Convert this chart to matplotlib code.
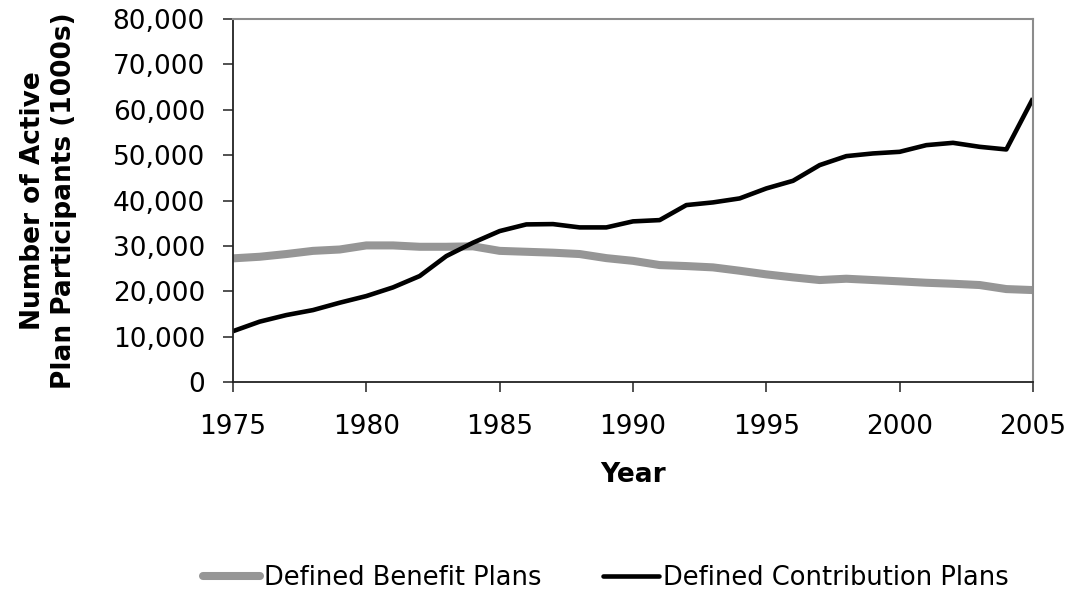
import matplotlib
matplotlib.use("Agg")
import matplotlib.pyplot as plt
from matplotlib.ticker import FuncFormatter, MultipleLocator

years = list(range(1975, 2006))
defined_benefit = [27250, 27600, 28200, 28900, 29200, 30100, 30100, 29800, 29800, 29900,
                   28900, 28700, 28500, 28200, 27300, 26700, 25770, 25550, 25260, 24520,
                   23720, 23060, 22470, 22760, 22470, 22180, 21870, 21650, 21370, 20480, 20260]
defined_contribution = [11200, 13300, 14750, 15850, 17470, 18940, 20850, 23350, 27750, 30700,
                        33260, 34730, 34800, 34070, 34070, 35400, 35680, 38990, 39580, 40460,
                        42660, 44340, 47800, 49780, 50370, 50730, 52200, 52710, 51830, 51250, 62500]
series_labels = ["Defined Benefit Plans", "Defined Contribution Plans"]
x_label = "Year"
y_label = "Number of Active\nPlan Participants (1000s)"

plt.rcParams['font.family'] = ['DejaVu Sans']

fig = plt.figure(figsize=(10.76, 5.92), dpi=100)
ax = fig.add_axes([233/1076, 1 - 382/592, 800/1076, 363/592])

ax.plot(years, defined_benefit, color="#969696", lw=5.8, solid_capstyle="butt",
        solid_joinstyle="round", label=series_labels[0])
ax.plot(years, defined_contribution, color="black", lw=3.3, solid_capstyle="butt",
        solid_joinstyle="round", label=series_labels[1])

ax.set_xlim(1975, 2005)
ax.set_ylim(0, 80000)
ax.xaxis.set_major_locator(MultipleLocator(5))
ax.yaxis.set_major_locator(MultipleLocator(10000))
ax.yaxis.set_major_formatter(FuncFormatter(lambda v, p: f"{int(v):,}"))

for s in ["left", "bottom"]:
    ax.spines[s].set_color("#222222")
    ax.spines[s].set_linewidth(1.3)
for s in ["top", "right"]:
    ax.spines[s].set_color("#8c8c8c")
    ax.spines[s].set_linewidth(1.5)

ax.tick_params(axis="both", direction="out", length=7.2, width=1.1, color="#222222",
               labelsize=19)
ax.tick_params(axis="y", pad=13)
ax.tick_params(axis="x", pad=16)

ax.set_xlabel(x_label, fontsize=19, fontweight="bold", labelpad=16)
ax.set_ylabel(y_label, fontsize=19, fontweight="bold", labelpad=26, linespacing=1.25)

leg = fig.legend(loc="center", bbox_to_anchor=(606/1076, 1 - 578/592), ncol=2,
                 frameon=False, fontsize=18.5, handlelength=2.2, handletextpad=0.15,
                 columnspacing=2.4)
for h in leg.get_lines():
    h.set_solid_capstyle("round")

fig.savefig("out.png", dpi=100)
